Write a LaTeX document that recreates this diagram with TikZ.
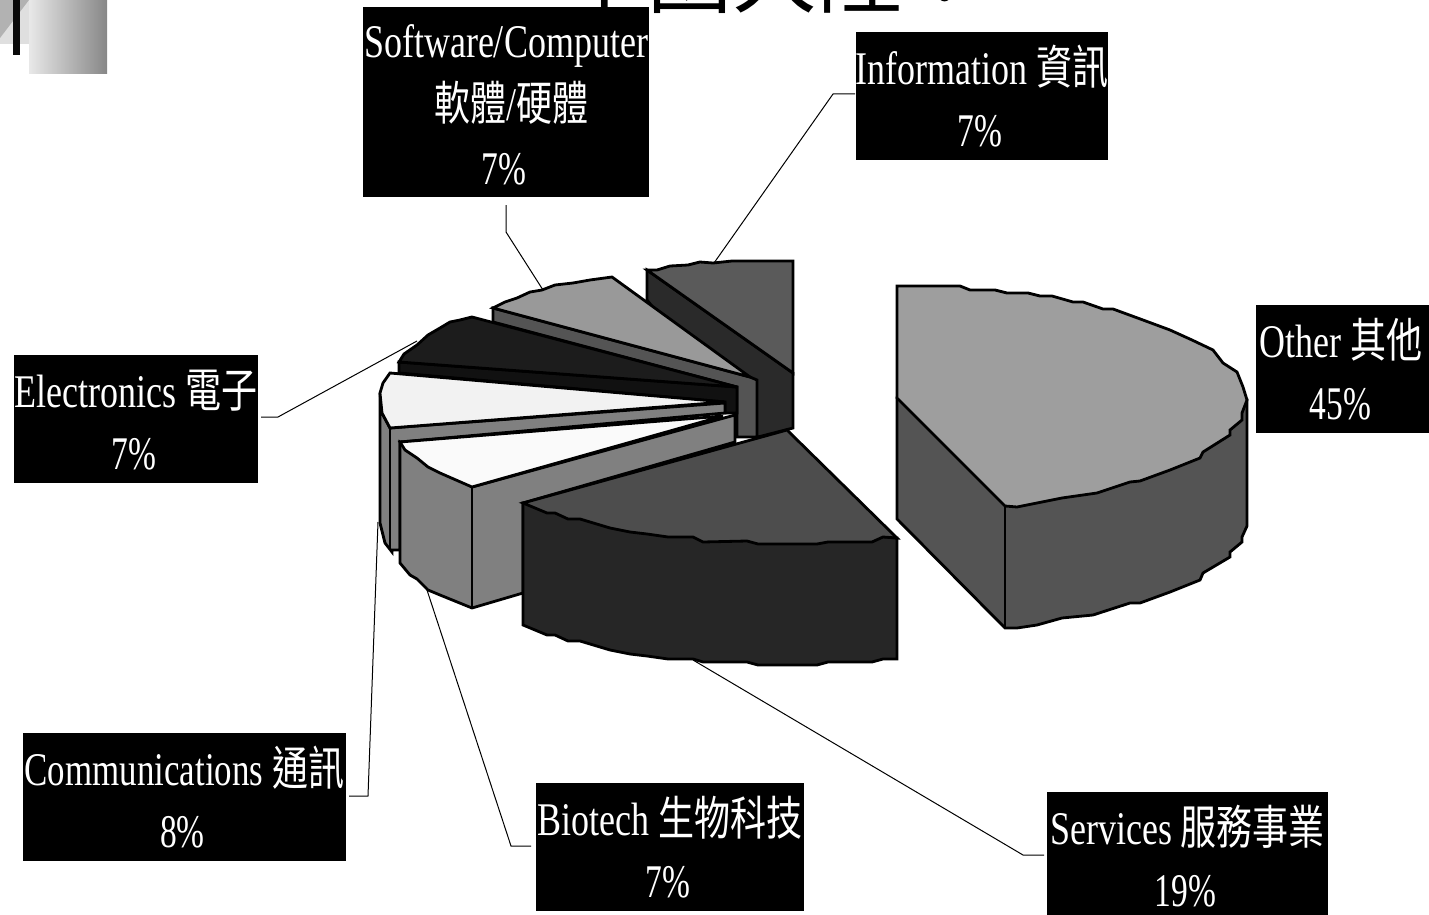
\documentclass[tikz,border=0pt]{standalone}
\usepackage{fontspec}
\setmainfont{Liberation Serif}
\newfontfamily\cjk{Noto Sans CJK TC}
\definecolor{otherTop}{HTML}{9E9E9E}
\definecolor{otherSide}{HTML}{545454}
\definecolor{servTop}{HTML}{4D4D4D}
\definecolor{servSide}{HTML}{262626}
\definecolor{bioTop}{HTML}{FAFAFA}
\definecolor{midSide}{HTML}{808080}
\definecolor{commTop}{HTML}{F2F2F2}
\definecolor{elecTop}{HTML}{1C1C1C}
\definecolor{elecSide}{HTML}{111111}
\definecolor{softTop}{HTML}{999999}
\definecolor{softSide}{HTML}{545454}
\definecolor{infoTop}{HTML}{5A5A5A}
\definecolor{infoSide}{HTML}{2A2A2A}
\newcommand{\pct}[1]{\hspace*{-4pt}\scalebox{.93}[1]{#1}}
\newcommand{\twolines}[2]{\raisebox{-7pt}[\height][\depth]{\makebox[0pt]{\scalebox{1}[1.3]{\fontsize{36}{47.8}\selectfont\begin{tabular}{@{}c@{}}#1\\\pct{#2}\end{tabular}}}}}
\newcommand{\threelines}[3]{\raisebox{-6pt}[\height][\depth]{\makebox[0pt]{\scalebox{1}[1.3]{\fontsize{36}{48.8}\selectfont\begin{tabular}{@{}c@{}}#1\\#2\\\pct{#3}\end{tabular}}}}}
\tikzset{
  pie/.style={draw=black,line width=2.8pt,line join=miter},
  lbl/.style={fill=black,text=white,inner sep=0pt,outer sep=0pt,align=center},
  leader/.style={draw=black,line width=1pt},
}
\begin{document}
\begin{tikzpicture}[x=1pt,y=-1pt]
\useasboundingbox (0,0) rectangle (1429,915);
% corner ornament
\fill[gray!25!white] (0,0) rectangle (35,44);
\fill[gray!60!white] (0,0) -- (29,0) -- (0,38) -- cycle;
\shade[left color=black!9,right color=black!47] (29,0) rectangle (107,74);
\fill[black!96] (13,0) rectangle (20,55);
% title, cut by the top edge
\begin{scope}
\clip (0,0) rectangle (1429,915);
\node[anchor=base west,inner sep=0pt,font=\fontsize{85}{85}\selectfont\cjk] (title) at (562,7) {中國大陸：};
\end{scope}
% Information
\path[pie,fill=infoSide] (647,270) -- (647,300) -- (758,437) -- (793,428) -- (793,373) -- cycle;
\path[pie,fill=infoTop] (647,270) -- (657,270) -- (670,266) -- (688,265) -- (700,262) -- (713,263) -- (732,261) -- (793,261) -- (793,373) -- cycle;
% Software
\path[pie,fill=softSide] (493,308) -- (493,322) -- (737,387) -- (737,437) -- (757,437) -- (757,380) -- (750,377) -- cycle;
\path[pie,fill=softTop] (493,308) -- (505,302) -- (517,298) -- (530,292) -- (542,290) -- (555,285) -- (573,283) -- (590,280) -- (612,277) -- (750,377) -- cycle;
% Electronics
\path[pie,fill=elecSide] (399,362) -- (399,373) -- (725,402) -- (725,413) -- (737,413) -- (737,387) -- cycle;
\path[pie,fill=elecTop] (399,362) -- (404,354) -- (417,345) -- (428,335) -- (440,328) -- (450,322) -- (460,320) -- (472,317) -- (737,387) -- cycle;
% Communications
\path[pie,fill=midSide] (380,393) -- (380,523) -- (385,543) -- (392,552) -- (392,550) -- (400,550) -- (400,442) -- (725,413) -- (725,403) -- (390,428) -- (382,413) -- cycle;
\draw[pie] (390,428) -- (390,550);
\path[pie,fill=commTop] (390,373) -- (725,402) -- (390,428) -- (382,413) -- (380,393) -- (383,383) -- cycle;
% Biotech
\path[pie,fill=midSide] (400,442) -- (400,563) -- (410,575) -- (417,579) -- (428,590) -- (440,595) -- (472,608) -- (523,593) -- (523,503) -- (735,442) -- (735,415) -- (472,487) -- cycle;
\draw[pie] (472,487) -- (472,608);
\path[pie,fill=bioTop] (400,442) -- (405,450) -- (417,458) -- (428,467) -- (440,473) -- (472,487) -- (723,416) -- cycle;
% Services
\path[pie,fill=servSide] (523,503) -- (523,625) -- (547,635) -- (555,635) -- (568,641) -- (580,641) -- (610,650) -- (630,654) -- (647,656) -- (668,659) -- (693,659) -- (703,662) -- (747,662) -- (758,665) -- (817,665) -- (828,662) -- (872,662) -- (883,659) -- (897,659) -- (897,538) -- cycle;
\path[pie,fill=servTop] (787,430) -- (897,538) -- (883,537) -- (872,542) -- (828,542) -- (817,544) -- (758,544) -- (747,541) -- (703,542) -- (693,537) -- (668,537) -- (647,534) -- (630,532) -- (610,528) -- (580,519) -- (568,519) -- (555,513) -- (547,513) -- (523,503) -- cycle;
% Other
\path[pie,fill=otherSide] (897,398) -- (897,519) -- (1005,628) -- (1017,628) -- (1037,625) -- (1062,618) -- (1093,615) -- (1130,603) -- (1140,603) -- (1170,592) -- (1200,580) -- (1203,573) -- (1230,557) -- (1230,552) -- (1242,542) -- (1242,537) -- (1247,526) -- (1247,400) -- cycle;
\draw[pie] (1005,506) -- (1005,628);
\path[pie,fill=otherTop] (897,286) -- (960,286) -- (970,290) -- (995,290) -- (1007,293) -- (1028,293) -- (1040,296) -- (1052,296) -- (1073,302) -- (1083,302) -- (1103,309) -- (1113,309) -- (1143,320) -- (1170,330) -- (1192,340) -- (1213,350) -- (1223,363) -- (1237,372) -- (1243,387) -- (1247,400) -- (1242,413) -- (1242,420) -- (1230,430) -- (1230,435) -- (1203,452) -- (1200,458) -- (1170,470) -- (1140,481) -- (1130,482) -- (1097,493) -- (1062,498) -- (1037,503) -- (1017,507) -- (1005,506) -- (897,398) -- cycle;
% labels
\node[lbl,minimum width=286pt,minimum height=190pt] (software) at (506,102) {\threelines{Software/Computer}{\hspace*{10pt}{\cjk 軟體}/{\cjk 硬體}}{7\%}};
\node[lbl,minimum width=252pt,minimum height=128pt] (information) at (982,96) {\twolines{Information {\cjk 資訊}}{7\%}};
\node[lbl,minimum width=173pt,minimum height=128pt] (other) at (1342.5,369) {\twolines{\hspace*{-4pt}Other {\cjk 其他}}{45\%}};
\node[lbl,minimum width=244pt,minimum height=128pt] (electronics) at (136,419) {\twolines{Electronics {\cjk 電子}}{7\%}};
\node[lbl,minimum width=323pt,minimum height=128pt] (communications) at (184.5,797) {\twolines{\scalebox{.97}[1]{Communications} {\cjk 通訊}}{8\%}};
\node[lbl,minimum width=268pt,minimum height=128pt] (biotech) at (670,847) {\twolines{Biotech {\cjk 生物科技}}{7\%}};
\node[lbl,minimum width=281pt,minimum height=128pt] (services) at (1187.5,856) {\twolines{Services {\cjk 服務事業}}{19\%}};
% leaders
\coordinate (pInfo) at (714,263);
\coordinate (pSoft) at (543,290);
\coordinate (pElec) at (417,341);
\coordinate (pComm) at (378,522);
\coordinate (pBio) at (426,587);
\coordinate (pServ) at (693,660);
\draw[leader] (information.west |- 0,94) ++(-1,0) -- (833,94) -- (pInfo);
\draw[leader] (506,205) -- (506,232) -- (pSoft);
\draw[leader] (261,417) -- (278,417) -- (pElec);
\draw[leader] (349,796) -- (368,796) -- (pComm);
\draw[leader] (531,846) -- (511,846) -- (pBio);
\draw[leader] (1044,855) -- (1023,855) -- (pServ);
\end{tikzpicture}
\end{document}
